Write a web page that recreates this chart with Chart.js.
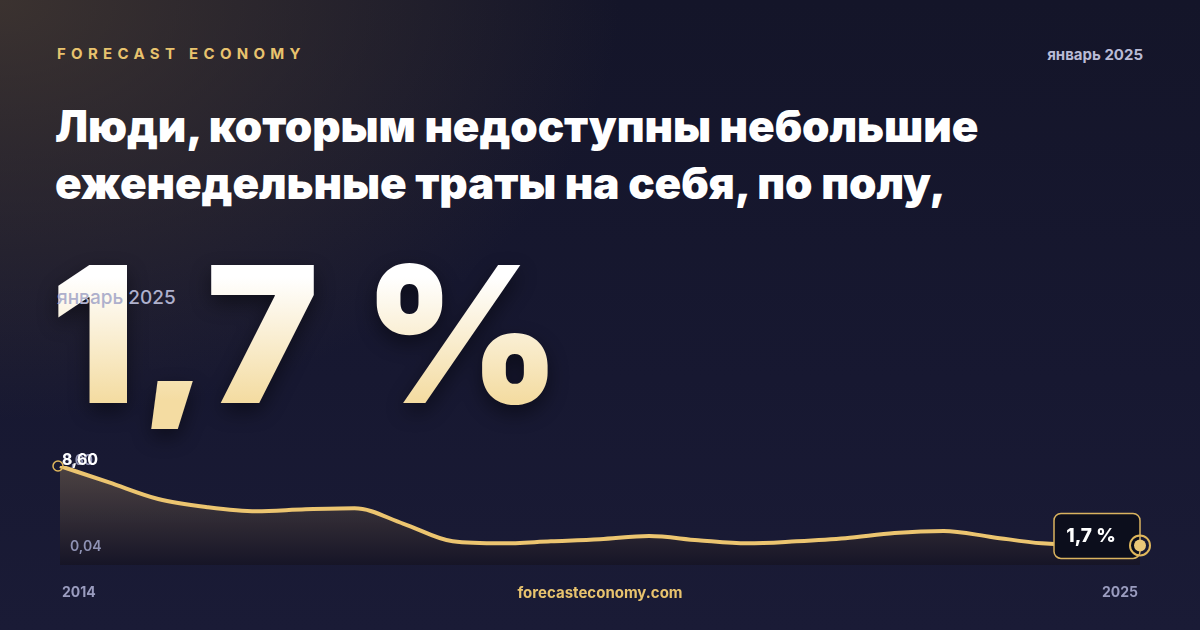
<!DOCTYPE html>
<html>
<head>
<meta charset="utf-8">
<script src="https://cdn.jsdelivr.net/npm/chart.js@4"></script>
<style>
  html, body { margin: 0; padding: 0; }
  body {
    width: 1200px; height: 630px; overflow: hidden; position: relative;
    font-family: Inter, "Noto Sans", sans-serif;
    background:
      radial-gradient(ellipse 620px 420px at 0px 0px, rgba(72,60,50,0.75), rgba(72,60,50,0) 100%),
      linear-gradient(180deg, #141529 0%, #171831 60%, #1a1b36 100%);
  }
  .brand { position: absolute; left: 57px; top: 44px; color: #e8c36e; font-weight: 700; font-size: 15px; letter-spacing: 5.3px; }
  .date { position: absolute; right: 57px; top: 45px; color: #b9bbd6; font-weight: 700; font-size: 15px; }
  h1 { position: absolute; left: 55px; top: 98px; margin: 0; color: #fff; font-weight: 900; font-size: 44px; line-height: 57px; letter-spacing: -0.1px; }
  .big {
    position: absolute; left: 50px; top: 239px; font-weight: 900; font-size: 190px; line-height: 1; letter-spacing: 3px;
    background: linear-gradient(180deg, #ffffff 20%, #f4dca2 85%);
    -webkit-background-clip: text; background-clip: text; color: transparent;
    filter: drop-shadow(0 8px 10px rgba(0,0,0,0.45));
  }
  .sub { position: absolute; left: 57px; top: 286px; color: #aeb0cc; font-size: 19px; font-weight: 500; }
  #wrap { position: absolute; left: 0; top: 0; width: 1200px; height: 630px; }
  .foot { position: absolute; top: 583px; font-weight: 700; font-size: 14px; color: #9a9cbf; }
  .site { position: absolute; top: 583px; left: 0; width: 1200px; text-align: center; font-weight: 700; font-size: 15px; color: #e8c36e; }
</style>
</head>
<body>
<div class="brand">FORECAST ECONOMY</div>
<div class="date">январь 2025</div>
<h1>Люди, которым недоступны небольшие<br>еженедельные траты на себя, по полу,</h1>
<div class="big">1,7 %</div>
<div class="sub">январь 2025</div>
<div id="wrap"><canvas id="chart"></canvas></div>
<div class="foot" style="left:62px">2014</div>
<div class="foot" style="right:62px">2025</div>
<div class="site">forecasteconomy.com</div>
<script>
// half-year points, Jan 2014 .. Jan 2025
const periods = ['2014','2014-2','2015','2015-2','2016','2016-2','2017','2017-2','2018','2018-2','2019','2019-2',
                 '2020','2020-2','2021','2021-2','2022','2022-2','2023','2023-2','2024','2024-2','2025'];
const shareValues = [8.6, 7.17, 5.73, 5.02, 4.66, 4.84, 4.93, 3.58, 2.06, 1.88, 2.06, 2.24,
                     2.51, 2.15, 1.88, 2.06, 2.33, 2.78, 2.96, 2.42, 1.88, 1.7, 1.7];
const yTickValues = [8.6, 0.04];
const lastLabel = '1,7 %';

const fmt = v => v.toFixed(2).replace('.', ',');

const overlay = {
  id: 'overlay',
  afterDatasetsDraw(chart) {
    const ctx = chart.ctx;
    const y = chart.scales.y;
    const area = chart.chartArea;
    const pts = chart.getDatasetMeta(0).data;
    ctx.save();
    // y tick labels inside the plot
    ctx.font = '600 14px Inter';
    ctx.fillStyle = '#8f92b4';
    ctx.textAlign = 'left';
    ctx.textBaseline = 'middle';
    yTickValues.forEach((v, i) => {
      const py = y.getPixelForValue(v);
      ctx.fillText(fmt(v), area.left + (i === 0 ? 2 : 10), i === 0 ? py - 5 : py - 18);
    });
    // first value
    const p0 = pts[0];
    ctx.font = '700 16px Inter';
    ctx.fillStyle = '#ffffff';
    ctx.fillText(fmt(shareValues[0]), p0.x + 2, p0.y - 6);
    ctx.beginPath();
    ctx.arc(p0.x - 2, p0.y, 5, 0, Math.PI * 2);
    ctx.strokeStyle = '#e0b75c';
    ctx.lineWidth = 1.5;
    ctx.stroke();
    // last value box
    const pl = pts[pts.length - 1];
    const bw = 86, bh = 45, bx = pl.x - bw, by = pl.y - 32;
    ctx.beginPath();
    ctx.roundRect(bx, by, bw, bh, 7);
    ctx.fillStyle = '#0c0e1c';
    ctx.fill();
    ctx.strokeStyle = '#d9b35f';
    ctx.lineWidth = 1.5;
    ctx.stroke();
    ctx.fillStyle = '#ffffff';
    ctx.font = '800 19px Inter';
    ctx.textAlign = 'center';
    ctx.fillText(lastLabel, bx + bw / 2 - 6, by + bh / 2);
    ctx.beginPath();
    ctx.arc(pl.x, pl.y, 10, 0, Math.PI * 2);
    ctx.strokeStyle = '#e0b75c';
    ctx.lineWidth = 2;
    ctx.stroke();
    ctx.beginPath();
    ctx.arc(pl.x, pl.y, 6, 0, Math.PI * 2);
    ctx.fillStyle = '#ecc878';
    ctx.fill();
    ctx.restore();
  }
};

const ctx = document.getElementById('chart');
new Chart(ctx, {
  type: 'line',
  data: {
    labels: periods,
    datasets: [{
      data: shareValues,
      borderColor: '#ecc570',
      borderWidth: 4,
      pointRadius: 0,
      cubicInterpolationMode: 'monotone',
      fill: 'origin',
      backgroundColor: (c) => {
        const a = c.chart.chartArea;
        if (!a) return 'rgba(0,0,0,0)';
        const g = c.chart.ctx.createLinearGradient(0, a.top, 0, a.bottom);
        g.addColorStop(0, 'rgba(120,100,80,0.55)');
        g.addColorStop(1, 'rgba(20,18,30,0.6)');
        return g;
      }
    }]
  },
  options: {
    responsive: true,
    maintainAspectRatio: false,
    animation: false,
    layout: { padding: { left: 60, right: 60, top: 466, bottom: 65 } },
    scales: {
      x: { display: false },
      y: { display: false, min: 0, max: 8.6 }
    },
    plugins: {
      legend: { display: false },
      tooltip: { enabled: false }
    }
  },
  plugins: [overlay]
});
</script>
</body>
</html>
